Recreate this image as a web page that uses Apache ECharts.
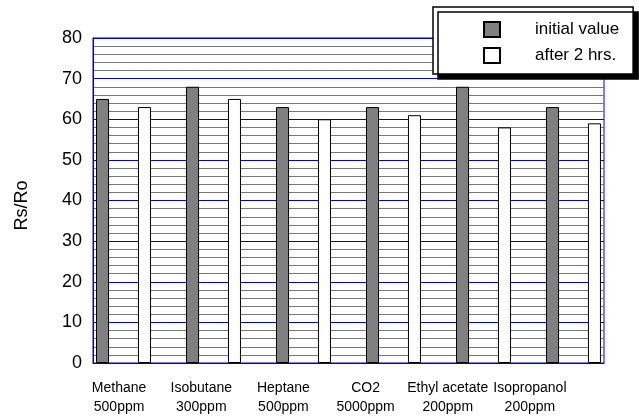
<!DOCTYPE html>
<html>
<head>
<meta charset="utf-8">
<script src="https://cdn.jsdelivr.net/npm/echarts@6/dist/echarts.min.js"></script>
<style>
  html, body { margin: 0; padding: 0; background: #fff; }
  #chart { width: 639px; height: 417px; }
</style>
</head>
<body>
<div id="chart"></div>
<script>
const categories = ['Methane\n500ppm', 'Isobutane\n300ppm', 'Heptane\n500ppm', 'CO2\n5000ppm', 'Ethyl acetate\n200ppm', 'Isopropanol\n200ppm'];
const initialValue = [65, 68, 63, 63, 68, 63];
const after2Hrs = [63, 65, 60, 61, 58, 59];
const seriesNames = ['initial value', 'after 2 hrs.'];

const BLUE = '#0000dd';
const FONT = 'Liberation Sans, Arial, sans-serif';
const OFFSET = 0.233;

const chart = echarts.init(document.getElementById('chart'));
chart.setOption({
  backgroundColor: '#fff',
  animation: false,
  textStyle: { fontFamily: FONT, color: '#000' },
  grid: [
    { left: 93, top: 38, width: 511, height: 325, show: true, borderColor: BLUE, borderWidth: 1, backgroundColor: 'transparent' },
    { left: 78, top: 38, width: 493, height: 325 }
  ],
  legend: {
    data: seriesNames,
    orient: 'vertical',
    left: 433, top: 7,
    padding: [14, 14, 10, 50],
    itemWidth: 16, itemHeight: 15, itemGap: 9,
    icon: 'rect',
    backgroundColor: '#fff',
    borderColor: '#000', borderWidth: 1.5,
    shadowColor: '#000', shadowBlur: 0, shadowOffsetX: 5, shadowOffsetY: 5,
    textStyle: { fontFamily: FONT, fontSize: 17, color: '#000', padding: [0, 0, 0, 30] },
    z: 20
  },
  xAxis: [
    {
      type: 'value', gridIndex: 0, min: -0.339, max: 5.339,
      axisLine: { show: true, onZero: false, lineStyle: { color: BLUE, width: 1 } },
      axisTick: { show: false }, axisLabel: { show: false }, splitLine: { show: false }
    },
    {
      type: 'category', gridIndex: 1, data: categories,
      axisLine: { show: false }, axisTick: { show: false },
      axisLabel: { fontFamily: FONT, fontSize: 14, color: '#000', lineHeight: 19, margin: 16, interval: 0 }
    }
  ],
  yAxis: [
    {
      type: 'value', gridIndex: 0, min: 0, max: 80, interval: 10,
      name: 'Rs/Ro', nameLocation: 'middle', nameGap: 62,
      nameTextStyle: { fontFamily: FONT, fontSize: 18, color: '#000', padding: [0, 0, 0, -10] },
      axisLine: { show: true, onZero: false, lineStyle: { color: BLUE, width: 1 } },
      axisTick: { show: false },
      axisLabel: { fontFamily: FONT, fontSize: 18, color: '#000', margin: 11 },
      splitLine: { show: true, lineStyle: { color: BLUE, width: 1 } },
      minorTick: { show: false, splitNumber: 5 },
      minorSplitLine: { show: true, lineStyle: { color: '#777', width: 1 } }
    },
    { type: 'value', gridIndex: 1, show: false, min: 0, max: 1, axisLine: { onZero: false } }
  ],
  series: [
    {
      name: seriesNames[0], type: 'bar', xAxisIndex: 0, yAxisIndex: 0,
      barWidth: 13, barGap: '-100%',
      itemStyle: { color: '#808080', borderColor: '#000', borderWidth: 1 },
      data: initialValue.map((v, i) => [i - OFFSET, v])
    },
    {
      name: seriesNames[1], type: 'bar', xAxisIndex: 0, yAxisIndex: 0,
      barWidth: 13, barGap: '-100%',
      itemStyle: { color: '#fff', borderColor: '#000', borderWidth: 1 },
      data: after2Hrs.map((v, i) => [i + OFFSET, v])
    }
  ]
});
</script>
</body>
</html>
